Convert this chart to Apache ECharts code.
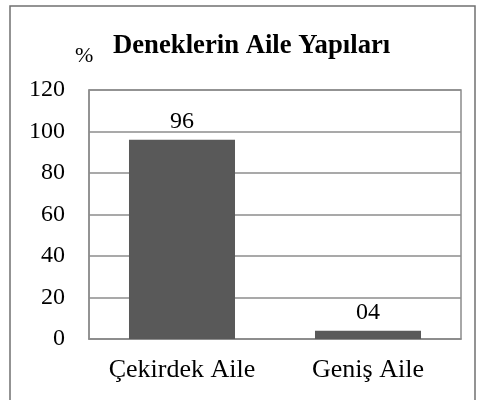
<!DOCTYPE html>
<html><head><meta charset="utf-8">
<script src="https://cdn.jsdelivr.net/npm/echarts@6/dist/echarts.min.js"></script>
<style>html,body{margin:0;padding:0;background:#fff}#c{width:480px;height:400px}</style>
</head><body><div id="c"></div>
<script>
const categories = ['Çekirdek Aile', 'Geniş Aile'];
const values = [96, 4];
const valueLabels = ['96', '04'];
const yTicks = [0, 20, 40, 60, 80, 100, 120];
const font = '"Liberation Serif", "Times New Roman", serif';
const chart = echarts.init(document.getElementById('c'), null, {renderer: 'canvas'});
chart.setOption({
  animation: false,
  backgroundColor: '#fff',
  title: {
    text: 'Deneklerin Aile Yapıları', left: 108, top: 28,
    textStyle: {fontFamily: font, fontWeight: 'bold', fontSize: 26.7, color: '#000'}
  },
  graphic: [
    {type: 'rect', shape: {x: 10, y: 6, width: 465, height: 410}, style: {fill: 'none', stroke: '#707070', lineWidth: 1.5}, z: -1},
    {type: 'text', left: 75, top: 45, style: {text: '%', font: '22px ' + font, fill: '#000'}}
  ],
  grid: {left: 89, right: 19, top: 90, bottom: 61, show: true, borderColor: '#8c8c8c', borderWidth: 1.5, backgroundColor: 'transparent'},
  xAxis: {
    type: 'category', data: categories,
    axisLine: {lineStyle: {color: '#8c8c8c', width: 1.5}},
    axisTick: {show: false},
    axisLabel: {fontFamily: font, fontSize: 26, color: '#000', margin: 18, interval: 0}
  },
  yAxis: {
    type: 'value', min: yTicks[0], max: yTicks[yTicks.length - 1], interval: 20,
    axisLine: {show: true, lineStyle: {color: '#8c8c8c', width: 1.5}},
    axisTick: {show: false},
    axisLabel: {fontFamily: font, fontSize: 24, color: '#000', margin: 24},
    splitLine: {lineStyle: {color: '#8c8c8c', width: 1.5}}
  },
  series: [{
    type: 'bar', data: values, barWidth: '57%',
    itemStyle: {color: '#595959'},
    label: {show: true, position: 'top', distance: 6, fontFamily: font, fontSize: 24, color: '#000',
      formatter: p => valueLabels[p.dataIndex]}
  }]
});
</script></body></html>
